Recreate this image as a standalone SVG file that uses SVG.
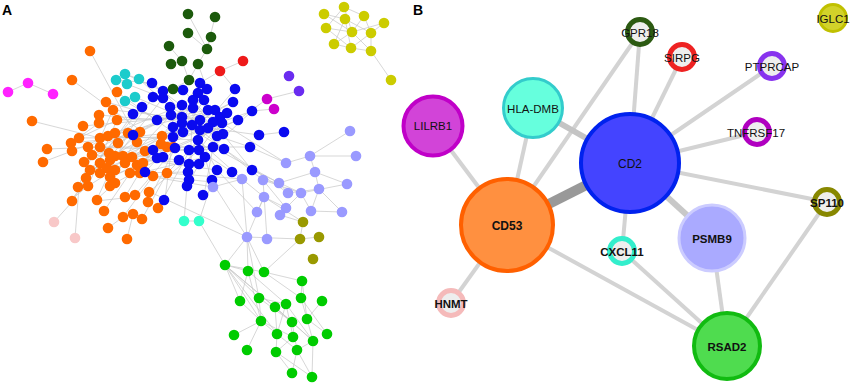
<svg xmlns="http://www.w3.org/2000/svg" width="851" height="385" viewBox="0 0 851 385">
<style>
.t{font-family:"Liberation Sans",Arial,sans-serif;fill:#111;text-anchor:middle;dominant-baseline:central}
.ttl{font-family:"Liberation Sans",Arial,sans-serif;font-weight:bold;font-size:14px;fill:#000}
.ea{fill:none;stroke:#c6c6c6;stroke-width:0.7}
.eb{stroke:#d3d3d3;stroke-width:4;stroke-linecap:butt}
.o circle{fill:#ff6a00}.bl circle{fill:#0a0af0}.lv circle{fill:#9a9aff}.gr circle{fill:#00cc00}
.dg circle{fill:#1c5a0c}.ye circle{fill:#cccc00}.cy circle{fill:#1ccccc}.aq circle{fill:#33ffcc}
.mg circle{fill:#ff22ff}.pm circle{fill:#cc00cc}.rd circle{fill:#ee1a1a}.vi circle{fill:#6a2cf0}
.ol circle{fill:#999900}.pk circle{fill:#f8c8c8}
#panel-a-nodes circle{r:5.3px}
.ring{fill:#eeeeee;stroke-width:5}
</style>
<text class="ttl" x="2" y="15">A</text>
<text class="ttl" x="413" y="15">B</text>
<g id="connectors-a">
<path class="ea" d="M90,51L130,125M72,80L140,130M32,121L100,138M47,149L100,147M43,162L72,151M72,199L100,163M54,222L72,202M75,238L79,187M72,202L86,178M104,211L130,173M108,228L123,217M127,239L133,214M123,217L153,176M142,219L167,173M158,208L190,150M148,202L175,148M117,92L170,130M106,102L190,125M113,110L200,120M99,115L157,120M117,120L220,117M83,126L182,117M79,138L173,137M71,143L200,130M88,147L189,150M100,138L215,110M108,136L198,140M115,133L182,105M128,133L193,108M140,132L204,100M137,142L222,123M100,147L213,147M92,155L199,164M109,153L179,160M115,156L217,170M123,156L192,125M132,157L208,128M145,151L224,149M162,136L233,102M167,147L250,147M173,147L238,120M161,144L252,111M84,162L133,135M100,163L145,151M110,160L162,136M125,163L171,115M137,165L183,132M143,163L200,83M153,176L212,182M130,173L188,172M140,173L205,157M115,170L173,127M107,168L163,98M100,173L153,97M90,170L142,107M86,178L133,114M78,187L113,110M88,186L117,120M110,177L157,158M115,183L163,157M125,197L153,150M135,195L175,148M149,192L199,150M167,173L227,113M97,199L128,133M110,186L140,132"/>
<path class="ea" d="M79,138L117,120M71,143L99,123M72,151L108,136M88,147L115,133M100,147L128,133M92,155L118,143M84,162L109,153M100,163L137,142M110,160L140,132M86,178L115,156M90,170L123,156M100,173L132,157M107,168L145,151M115,170L161,144M130,173L167,147M78,187L100,163M88,186L125,163M110,177L137,165M72,199L88,186M97,199L115,183M96,201L124,198"/>
<path class="ea" d="M152,83L200,120M163,91L193,125M200,83L182,123M183,90L213,122M207,89L173,137M198,93L222,123M235,89L200,130M193,100L217,136M204,100L183,132M233,102L192,125M182,105L223,134M170,107L208,128M208,110L157,120M215,110L173,127M220,117L189,150M227,113L199,150M252,111L213,147M238,120L175,148M259,135L208,128M284,132L259,135M250,147L200,130M224,149L182,123M217,170L192,125M252,170L213,122M232,172L199,150M188,172L200,120M189,180L192,125M212,182L205,157M187,186L199,164M204,195L213,147M165,199L173,137M145,172L183,132M133,135L171,115"/>
<path class="ea" d="M350,131L310,156M310,156L286,163M310,156L356,156M310,156L315,172M315,172L347,184M315,172L319,189M319,189L342,212M319,189L311,211M301,193L311,211M301,193L286,208M288,193L279,183M279,183L263,180M263,180L286,208M264,197L242,179M264,197L286,208M280,215L286,208M257,212L264,197M247,237L264,197M247,237L242,179M267,239L263,180M242,179L213,187M286,163L250,147M286,163L222,123M263,180L200,130M279,183L213,147M288,193L224,149M301,193L252,170M242,179L198,140M257,212L217,170M247,237L212,182M347,184L301,193M342,212L311,211M319,189L288,193M263,180L301,193M279,183L315,172M213,187L130,173M247,237L150,192M242,179L167,173"/>
<path class="ea" d="M225,265L247,237M225,265L199,221M225,265L248,271M225,265L264,272M225,265L259,298M225,265L240,301M225,265L275,307M225,265L261,321M225,265L292,322M225,265L277,334M247,237L248,271M247,237L264,272M264,272L300,239M264,272L302,281M248,271L261,321M248,271L286,304M259,298L286,304M259,298L261,321M259,298L292,322M275,307L292,322M275,307L277,334M286,304L293,337M286,304L313,341M301,298L307,319M301,298L302,281M322,301L307,319M307,319L313,341M307,319L327,334M261,321L277,334M261,321L293,337M261,321L234,335M292,322L297,350M292,322L313,341M277,334L276,352M277,334L297,350M293,337L276,352M313,341L297,350M313,341L312,377M276,352L292,373M297,350L292,373M297,350L312,377M276,352L312,377M261,321L247,350M248,271L240,301M264,272L301,298M302,281L307,319M301,298L327,334M286,304L277,334M275,307L313,341M240,301L261,321M259,298L247,237"/>
<path class="ea" d="M184,221L199,221M184,221L187,186M199,221L212,182M300,239L303,222M300,239L319,237M303,222L264,197M303,222L280,215M300,239L247,237M125,74L139,79M116,80L127,84M139,79L170,107M127,84L163,98M135,97L182,117M125,101L157,120M116,80L152,83M125,74L163,91M188,14L207,49M215,17L207,49M188,33L207,49M211,37L207,49M169,46L182,61M207,49L198,64M182,61L189,80M171,64L182,61M198,64L189,80M189,80L173,89M173,89L183,90M189,80L200,83M173,89L163,91M198,64L207,89M243,61L220,71M220,71L200,83M220,71L235,89M299,91L267,99M267,99L238,120M274,109L252,111M8,92L28,83M28,83L53,94M344,7L352,32M344,7L364,16M344,7L326,28M324,14L352,32M324,14L345,19M345,19L371,33M345,19L334,44M364,16L371,33M364,16L352,32M384,23L371,33M384,23L352,32M326,28L351,48M352,32L371,51M352,32L334,44M371,33L351,48M334,44L351,48M351,48L371,51M371,33L371,51M371,51L391,80M326,28L352,32M345,19L351,48"/>
</g>
<g id="panel-a-nodes">
<g id="a-orange" class="o"><circle cx="90" cy="51" r="5"/><circle cx="72" cy="80" r="5"/><circle cx="117" cy="92" r="5"/><circle cx="106" cy="102" r="5"/><circle cx="113" cy="110" r="5"/><circle cx="99" cy="115" r="5"/><circle cx="117" cy="120" r="5"/><circle cx="32" cy="121" r="5"/><circle cx="83" cy="126" r="5"/><circle cx="99" cy="123" r="5"/><circle cx="79" cy="138" r="5"/><circle cx="71" cy="143" r="5"/><circle cx="47" cy="149" r="5"/><circle cx="43" cy="162" r="5"/><circle cx="72" cy="151" r="5"/><circle cx="88" cy="147" r="5"/><circle cx="100" cy="138" r="5"/><circle cx="108" cy="136" r="5"/><circle cx="115" cy="133" r="5"/><circle cx="118" cy="143" r="5"/><circle cx="128" cy="133" r="5"/><circle cx="140" cy="132" r="5"/><circle cx="137" cy="142" r="5"/><circle cx="100" cy="147" r="5"/><circle cx="92" cy="155" r="5"/><circle cx="109" cy="153" r="5"/><circle cx="115" cy="156" r="5"/><circle cx="123" cy="156" r="5"/><circle cx="132" cy="157" r="5"/><circle cx="145" cy="151" r="5"/><circle cx="162" cy="136" r="5"/><circle cx="167" cy="147" r="5"/><circle cx="173" cy="147" r="5"/><circle cx="161" cy="144" r="5"/><circle cx="84" cy="162" r="5"/><circle cx="100" cy="163" r="5"/><circle cx="110" cy="160" r="5"/><circle cx="125" cy="163" r="5"/><circle cx="137" cy="165" r="5"/><circle cx="143" cy="163" r="5"/><circle cx="153" cy="176" r="5"/><circle cx="130" cy="173" r="5"/><circle cx="140" cy="173" r="5"/><circle cx="115" cy="170" r="5"/><circle cx="107" cy="168" r="5"/><circle cx="100" cy="173" r="5"/><circle cx="90" cy="170" r="5"/><circle cx="86" cy="178" r="5"/><circle cx="78" cy="187" r="5"/><circle cx="88" cy="186" r="5"/><circle cx="110" cy="177" r="5"/><circle cx="115" cy="183" r="5"/><circle cx="125" cy="197" r="5"/><circle cx="135" cy="195" r="5"/><circle cx="149" cy="192" r="5"/><circle cx="167" cy="173" r="5"/><circle cx="72" cy="201" r="5"/><circle cx="97" cy="200" r="5"/><circle cx="110" cy="186" r="5"/><circle cx="104" cy="211" r="5"/><circle cx="148" cy="202" r="5"/><circle cx="158" cy="208" r="5"/><circle cx="123" cy="217" r="5"/><circle cx="133" cy="214" r="5"/><circle cx="142" cy="219" r="5"/><circle cx="108" cy="228" r="5"/><circle cx="127" cy="239" r="5"/></g>
<g id="a-blue" class="bl"><circle cx="152" cy="83" r="5"/><circle cx="163" cy="91" r="5"/><circle cx="200" cy="83" r="5"/><circle cx="183" cy="90" r="5"/><circle cx="207" cy="89" r="5"/><circle cx="198" cy="93" r="5"/><circle cx="235" cy="89" r="5"/><circle cx="193" cy="100" r="5"/><circle cx="204" cy="100" r="5"/><circle cx="153" cy="97" r="5"/><circle cx="163" cy="98" r="5"/><circle cx="233" cy="102" r="5"/><circle cx="142" cy="107" r="5"/><circle cx="133" cy="114" r="5"/><circle cx="182" cy="105" r="5"/><circle cx="170" cy="107" r="5"/><circle cx="193" cy="108" r="5"/><circle cx="208" cy="110" r="5"/><circle cx="215" cy="110" r="5"/><circle cx="220" cy="117" r="5"/><circle cx="227" cy="113" r="5"/><circle cx="252" cy="111" r="5"/><circle cx="238" cy="120" r="5"/><circle cx="157" cy="120" r="5"/><circle cx="171" cy="115" r="5"/><circle cx="182" cy="117" r="5"/><circle cx="200" cy="120" r="5"/><circle cx="192" cy="125" r="5"/><circle cx="173" cy="127" r="5"/><circle cx="182" cy="123" r="5"/><circle cx="213" cy="122" r="5"/><circle cx="222" cy="123" r="5"/><circle cx="200" cy="130" r="5"/><circle cx="208" cy="128" r="5"/><circle cx="183" cy="132" r="5"/><circle cx="173" cy="137" r="5"/><circle cx="223" cy="134" r="5"/><circle cx="217" cy="136" r="5"/><circle cx="259" cy="135" r="5"/><circle cx="284" cy="132" r="5"/><circle cx="198" cy="140" r="5"/><circle cx="213" cy="147" r="5"/><circle cx="250" cy="147" r="5"/><circle cx="224" cy="149" r="5"/><circle cx="199" cy="150" r="5"/><circle cx="189" cy="150" r="5"/><circle cx="175" cy="148" r="5"/><circle cx="153" cy="150" r="5"/><circle cx="157" cy="158" r="5"/><circle cx="163" cy="157" r="5"/><circle cx="179" cy="160" r="5"/><circle cx="189" cy="164" r="5"/><circle cx="199" cy="164" r="5"/><circle cx="205" cy="157" r="5"/><circle cx="217" cy="170" r="5"/><circle cx="252" cy="170" r="5"/><circle cx="232" cy="172" r="5"/><circle cx="188" cy="172" r="5"/><circle cx="189" cy="180" r="5"/><circle cx="212" cy="180" r="5"/><circle cx="133" cy="135" r="5"/><circle cx="145" cy="172" r="5"/><circle cx="164" cy="200" r="5"/><circle cx="203" cy="195" r="5"/><circle cx="187" cy="186" r="5"/></g>
<g id="a-lavender" class="lv"><circle cx="350" cy="131" r="5"/><circle cx="310" cy="156" r="5"/><circle cx="356" cy="156" r="5"/><circle cx="286" cy="163" r="5"/><circle cx="315" cy="172" r="5"/><circle cx="347" cy="184" r="5"/><circle cx="319" cy="189" r="5"/><circle cx="301" cy="193" r="5"/><circle cx="288" cy="193" r="5"/><circle cx="279" cy="183" r="5"/><circle cx="263" cy="180" r="5"/><circle cx="242" cy="179" r="5"/><circle cx="213" cy="187" r="5"/><circle cx="264" cy="197" r="5"/><circle cx="286" cy="208" r="5"/><circle cx="311" cy="211" r="5"/><circle cx="342" cy="212" r="5"/><circle cx="257" cy="212" r="5"/><circle cx="280" cy="215" r="5"/><circle cx="247" cy="237" r="5"/><circle cx="267" cy="239" r="5"/></g>
<g id="a-green" class="gr"><circle cx="225" cy="265" r="5"/><circle cx="248" cy="271" r="5"/><circle cx="264" cy="272" r="5"/><circle cx="302" cy="281" r="5"/><circle cx="240" cy="301" r="5"/><circle cx="259" cy="298" r="5"/><circle cx="275" cy="307" r="5"/><circle cx="286" cy="304" r="5"/><circle cx="301" cy="298" r="5"/><circle cx="322" cy="301" r="5"/><circle cx="261" cy="321" r="5"/><circle cx="292" cy="322" r="5"/><circle cx="307" cy="319" r="5"/><circle cx="234" cy="335" r="5"/><circle cx="277" cy="334" r="5"/><circle cx="293" cy="337" r="5"/><circle cx="313" cy="341" r="5"/><circle cx="327" cy="334" r="5"/><circle cx="247" cy="350" r="5"/><circle cx="276" cy="352" r="5"/><circle cx="297" cy="350" r="5"/><circle cx="292" cy="373" r="5"/><circle cx="312" cy="377" r="5"/></g>
<g id="a-darkgreen" class="dg"><circle cx="188" cy="14" r="5"/><circle cx="215" cy="17" r="5"/><circle cx="188" cy="33" r="5"/><circle cx="211" cy="37" r="5"/><circle cx="169" cy="46" r="5"/><circle cx="207" cy="49" r="5"/><circle cx="171" cy="64" r="5"/><circle cx="182" cy="61" r="5"/><circle cx="198" cy="64" r="5"/><circle cx="189" cy="80" r="5"/><circle cx="173" cy="89" r="5"/></g>
<g id="a-yellow" class="ye"><circle cx="344" cy="7" r="5"/><circle cx="324" cy="14" r="5"/><circle cx="345" cy="19" r="5"/><circle cx="364" cy="16" r="5"/><circle cx="384" cy="23" r="5"/><circle cx="326" cy="28" r="5"/><circle cx="352" cy="32" r="5"/><circle cx="371" cy="33" r="5"/><circle cx="334" cy="44" r="5"/><circle cx="351" cy="48" r="5"/><circle cx="371" cy="51" r="5"/><circle cx="391" cy="80" r="5"/></g>
<g id="a-cyan" class="cy"><circle cx="125" cy="74" r="5"/><circle cx="139" cy="79" r="5"/><circle cx="116" cy="80" r="5"/><circle cx="127" cy="84" r="5"/><circle cx="135" cy="97" r="5"/><circle cx="125" cy="101" r="5"/></g>
<g id="a-aqua" class="aq"><circle cx="184" cy="221" r="5"/><circle cx="199" cy="221" r="5"/></g>
<g id="a-magenta" class="mg"><circle cx="8" cy="92" r="5"/><circle cx="28" cy="83" r="5"/><circle cx="53" cy="94" r="5"/></g>
<g id="a-purple" class="pm"><circle cx="267" cy="99" r="5"/><circle cx="274" cy="109" r="5"/></g>
<g id="a-red" class="rd"><circle cx="243" cy="61" r="5"/><circle cx="220" cy="71" r="5"/></g>
<g id="a-violet" class="vi"><circle cx="289" cy="76" r="5"/><circle cx="299" cy="91" r="5"/></g>
<g id="a-olive" class="ol"><circle cx="303" cy="222" r="5"/><circle cx="300" cy="239" r="5"/><circle cx="319" cy="237" r="5"/><circle cx="313" cy="259" r="5"/></g>
<g id="a-pink" class="pk"><circle cx="54" cy="222" r="5"/><circle cx="75" cy="238" r="5"/></g>
</g>
<g id="connectors-b">
<line class="eb" x1="507" y1="225" x2="432" y2="125"/>
<line class="eb" x1="507" y1="225" x2="533" y2="108"/>
<line class="eb" x1="507" y1="225" x2="640" y2="32"/>
<line class="eb" x1="507" y1="225" x2="451" y2="303"/>
<line class="eb" x1="507" y1="225" x2="727" y2="346"/>
<line class="eb" x1="630" y1="163" x2="533" y2="108" style="stroke:#c4c4c4;stroke-width:6"/>
<line class="eb" x1="630" y1="163" x2="640" y2="32"/>
<line class="eb" x1="630" y1="163" x2="682" y2="57"/>
<line class="eb" x1="630" y1="163" x2="772" y2="66"/>
<line class="eb" x1="630" y1="163" x2="757" y2="132"/>
<line class="eb" x1="630" y1="163" x2="827" y2="202"/>
<line class="eb" x1="630" y1="163" x2="712" y2="238" style="stroke:#c8c8c8;stroke-width:6"/>
<line class="eb" x1="630" y1="163" x2="622" y2="251"/>
<line class="eb" x1="622" y1="251" x2="727" y2="346"/>
<line class="eb" x1="712" y1="238" x2="727" y2="346"/>
<line class="eb" x1="827" y1="202" x2="727" y2="346"/>
<line class="eb" x1="507" y1="225" x2="630" y2="163" style="stroke:#999999;stroke-width:10"/>
</g>
<g id="n-cd2"><circle cx="630" cy="163" r="49" fill="#4444ff" stroke="#0022ee" stroke-width="4"/><text class="t" x="630" y="164" font-size="12">CD2</text></g>
<g id="n-cd53"><circle cx="507" cy="225" r="46" fill="#ff9040" stroke="#ff6000" stroke-width="4"/><text class="t" x="507" y="226" font-size="12" font-weight="bold">CD53</text></g>
<g id="n-hla-dmb"><circle cx="533" cy="108" r="29.5" fill="#66ffdd" stroke="#33cccc" stroke-width="3"/><text class="t" x="533" y="109" font-size="11.5">HLA-DMB</text></g>
<g id="n-lilrb1"><circle cx="433" cy="126" r="29.5" fill="#d244d8" stroke="#c000c8" stroke-width="4"/><text class="t" x="433" y="126" font-size="11.5">LILRB1</text></g>
<g id="n-psmb9"><circle cx="712" cy="238" r="33" fill="#aaaaff" stroke="#ccccff" stroke-width="3"/><text class="t" x="712" y="239" font-size="11.5" font-weight="bold">PSMB9</text></g>
<g id="n-rsad2"><circle cx="727" cy="346" r="33" fill="#4fdc4f" stroke="#11bb11" stroke-width="4"/><text class="t" x="727" y="347" font-size="11.5" font-weight="bold">RSAD2</text></g>
<g id="n-gpr18"><circle class="ring" cx="640" cy="32" r="12.5" stroke="#2c5a12"/><text class="t" x="640" y="33" font-size="11.5">GPR18</text></g>
<g id="n-sirpg"><circle class="ring" cx="682" cy="57" r="12.5" stroke="#ee2222"/><text class="t" x="682" y="58" font-size="11.5">SIRPG</text></g>
<g id="n-ptprcap"><circle class="ring" cx="772" cy="66" r="12.5" stroke="#8833ee"/><text class="t" x="772" y="67" font-size="11.5">PTPRCAP</text></g>
<g id="n-tnfrsf17"><circle class="ring" cx="757" cy="132" r="12.5" stroke="#b000c0"/><text class="t" x="756" y="133" font-size="11.5">TNFRSF17</text></g>
<g id="n-iglc1"><circle cx="833" cy="18" r="13.5" fill="#d2d22a" stroke="#c0c000" stroke-width="3"/><text class="t" x="833" y="19" font-size="11.5">IGLC1</text></g>
<g id="n-sp110"><circle class="ring" cx="827" cy="202" r="12.5" stroke="#888800"/><text class="t" x="827" y="203" font-size="11.5" font-weight="bold">SP110</text></g>
<g id="n-cxcl11"><circle class="ring" cx="622" cy="251" r="12.5" stroke="#33eecc"/><text class="t" x="622" y="252" font-size="11.5" font-weight="bold">CXCL11</text></g>
<g id="n-hnmt"><circle class="ring" cx="451" cy="303" r="12.5" stroke="#f5baba"/><text class="t" x="451" y="304" font-size="11.5" font-weight="bold">HNMT</text></g>
</svg>
